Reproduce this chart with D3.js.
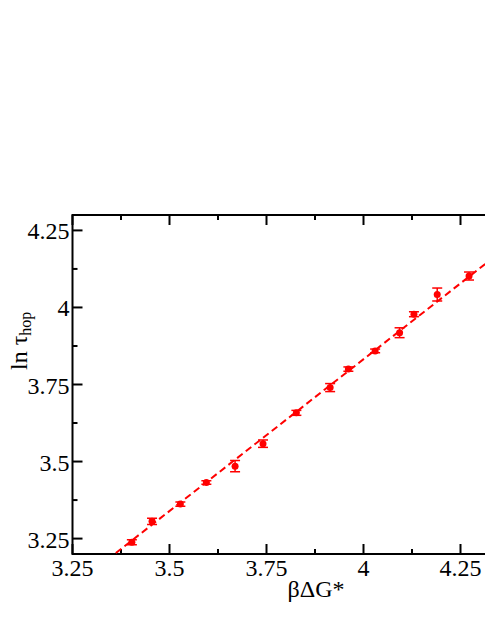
<!DOCTYPE html>
<meta charset="utf-8">
<script src="https://d3js.org/d3.v7.min.js"></script>
<style>
  body { margin: 0; background: #fff; }
</style>
<body>
<div id="my_dataviz"></div>
<script>
// data
var xVals = [3.403, 3.455, 3.528, 3.595, 3.669, 3.741, 3.827, 3.914, 3.961, 4.030, 4.093, 4.130, 4.190, 4.272];
var yVals = [3.238, 3.306, 3.362, 3.432, 3.485, 3.558, 3.658, 3.740, 3.800, 3.859, 3.918, 3.978, 4.042, 4.102];
var yErr  = [0.008, 0.010, 0.007, 0.006, 0.018, 0.012, 0.008, 0.013, 0.007, 0.006, 0.016, 0.008, 0.021, 0.013];
var fitSlope = 0.985, fitIntercept = -0.108;
var xTicks = [3.25, 3.5, 3.75, 4, 4.25];
var yTicks = [3.25, 3.5, 3.75, 4, 4.25];
var xTickLabels = ["3.25", "3.5", "3.75", "4", "4.25"];
var yTickLabels = ["3.25", "3.5", "3.75", "4", "4.25"];
var xMinor = [3.375, 3.625, 3.875, 4.125];
var yMinor = [3.375, 3.625, 3.875, 4.125];

// set the dimensions and margins of the graph
var margin = {top: 215, left: 72.5},
    width = 485, height = 627,
    plotW = 485, plotH = 339;

var svg = d3.select("#my_dataviz")
  .append("svg")
  .attr("width", width)
  .attr("height", height)
  .attr("font-family", "'Liberation Serif', 'DejaVu Serif', serif");

var g = svg.append("g")
  .attr("transform", "translate(" + margin.left + "," + margin.top + ")");

// x axis runs past the right edge of the picture (to 4.5)
var x = d3.scaleLinear().domain([3.25, 4.5]).range([0, plotW]);
var y = d3.scaleLinear().domain([3.2, 4.3]).range([plotH, 0]);

svg.append("defs").append("clipPath").attr("id", "clip")
  .append("rect").attr("width", plotW).attr("height", plotH);

// frame
g.append("rect")
  .attr("width", plotW).attr("height", plotH)
  .attr("fill", "none").attr("stroke", "#000").attr("stroke-width", 2);

// ticks on bottom and top (pointing in)
[[xTicks, 10], [xMinor, 5]].forEach(function(t) {
  g.selectAll(null).data(t[0]).enter().append("line")
    .attr("x1", d => x(d)).attr("x2", d => x(d))
    .attr("y1", plotH).attr("y2", plotH - t[1])
    .attr("stroke", "#000").attr("stroke-width", 2);
  g.selectAll(null).data(t[0]).enter().append("line")
    .attr("x1", d => x(d)).attr("x2", d => x(d))
    .attr("y1", 0).attr("y2", t[1])
    .attr("stroke", "#000").attr("stroke-width", 2);
});
// ticks on left
[[yTicks, 10], [yMinor, 5]].forEach(function(t) {
  g.selectAll(null).data(t[0]).enter().append("line")
    .attr("x1", 0).attr("x2", t[1])
    .attr("y1", d => y(d)).attr("y2", d => y(d))
    .attr("stroke", "#000").attr("stroke-width", 2);
});

// tick labels
g.selectAll(null).data(xTicks).enter().append("text")
  .attr("x", d => x(d)).attr("y", plotH + 22)
  .attr("text-anchor", "middle").attr("font-size", 24)
  .text((d, i) => xTickLabels[i]);
g.selectAll(null).data(yTicks).enter().append("text")
  .attr("x", -3).attr("y", d => y(d) + 9)
  .attr("text-anchor", "end").attr("font-size", 24)
  .text((d, i) => yTickLabels[i]);

// axis titles
svg.append("text")
  .attr("x", 316).attr("y", 597)
  .attr("text-anchor", "middle").attr("font-size", 24)
  .text("βΔG*");

var yl = svg.append("text")
  .attr("transform", "translate(27,370) rotate(-90)")
  .attr("font-size", 24);
yl.append("tspan").text("ln τ");
yl.append("tspan").attr("dy", 4).attr("font-size", 16).text("hop");

// fit line
var plot = g.append("g").attr("clip-path", "url(#clip)");
plot.append("line")
  .attr("x1", x(3.25)).attr("y1", y(fitIntercept + fitSlope * 3.25))
  .attr("x2", x(4.5)).attr("y2", y(fitIntercept + fitSlope * 4.5))
  .attr("stroke", "#ff0000").attr("stroke-width", 2)
  .attr("stroke-dasharray", "7,4");

// error bars and points
var pts = plot.selectAll(".pt").data(xVals).enter().append("g").attr("class", "pt");
pts.append("line")
  .attr("x1", d => x(d)).attr("x2", d => x(d))
  .attr("y1", (d, i) => y(yVals[i] - yErr[i])).attr("y2", (d, i) => y(yVals[i] + yErr[i]))
  .attr("stroke", "#ff0000").attr("stroke-width", 1.5);
[-1, 1].forEach(function(s) {
  pts.append("line")
    .attr("x1", d => x(d) - 5).attr("x2", d => x(d) + 5)
    .attr("y1", (d, i) => y(yVals[i] + s * yErr[i])).attr("y2", (d, i) => y(yVals[i] + s * yErr[i]))
    .attr("stroke", "#ff0000").attr("stroke-width", 1.5);
});
pts.append("circle")
  .attr("cx", d => x(d)).attr("cy", (d, i) => y(yVals[i]))
  .attr("r", 3.5).attr("fill", "#ff0000");
</script>
</body>
